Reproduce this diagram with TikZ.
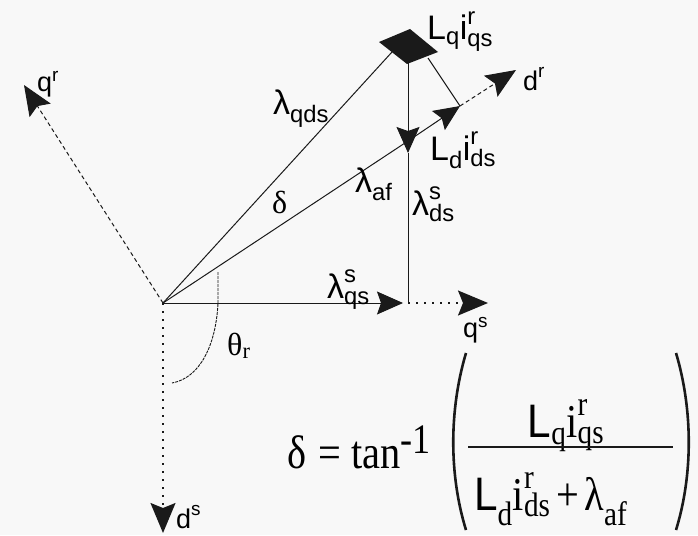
\documentclass[tikz,border=0pt]{standalone}
\usepackage{amsmath}
\usepackage{fontspec}
\setmainfont{Liberation Serif}
\setsansfont{Liberation Sans}
\newfontfamily\formfont{Liberation Serif}[FakeStretch=0.86]
\newfontfamily\formsans{Liberation Sans}[FakeStretch=0.9]
\usetikzlibrary{arrows.meta}
\DeclareMathSizes{47}{47}{34}{26}
\newcommand{\tx}[1]{\text{#1}}
\definecolor{bgc}{HTML}{F8F8F8}
\definecolor{ink}{HTML}{1A1A1A}
\tikzset{
  vecline/.style={draw=ink, line width=1pt},
  axdash/.style={draw=ink, line width=1pt, dash pattern=on 4pt off 3pt},
  axdot/.style={draw=ink, line width=1.6pt, dash pattern=on 2pt off 6pt},
  bigtip/.style={-{Stealth[length=30pt,width=25pt,inset=5pt,color=ink]}},
  smalltip/.style={-{Stealth[length=26pt,width=23pt,inset=4pt,color=ink]}},
  axlab/.style={font=\sffamily\fontsize{27}{30}\selectfont, inner sep=0pt, anchor=base west},
  vlab/.style={font=\sffamily\fontsize{34}{40}\selectfont, inner sep=0pt, anchor=base west},
  glab/.style={font=\fontsize{32}{38}\selectfont, inner sep=0pt, anchor=base west},
  flab/.style={font=\formfont\fontsize{47}{56}\selectfont, inner sep=0pt},
}
\begin{document}
\begin{tikzpicture}[x=1pt,y=-1pt]
\fill[bgc] (0,0) rectangle (698,535);
\useasboundingbox (0,0) rectangle (698,535);

\coordinate (O) at (163,303);
\coordinate (Qr) at (24,85);
\coordinate (Ds) at (163,533);
\coordinate (H) at (403,303);
\coordinate (Hx) at (408,303);
\coordinate (Qs) at (488,303);
\coordinate (A) at (408,141);
\coordinate (P) at (460,106);
\coordinate (Dr) at (516,70);
\coordinate (T) at (392,52);
\coordinate (Tr) at (428,58);
\coordinate (Tv) at (408,58);
\coordinate (Av) at (408,153);

% axes
\draw[axdash, bigtip] (O) -- (Qr);
\draw[axdot, bigtip] (O) -- (Ds);
\draw[axdot, bigtip] (Hx) -- (Qs);
\draw[vecline] (O) -- (A);
\draw[axdash, bigtip] (P) -- (Dr);

% vectors
\draw[vecline, smalltip] (O) -- (H);
\draw[vecline, smalltip] (A) -- (P);
\draw[vecline] (O) -- (T);
\draw[vecline] (P) -- (Tr);
\draw[vecline, smalltip] (Tv) -- (Av);
\draw[vecline] (Av) -- (Hx);
\fill[ink] (379,42) -- (410,29) -- (438,52) -- (407,64) -- cycle;

% angle theta_r
\draw[ink, line width=0.9pt, dash pattern=on 3pt off 1pt] (218,272) -- (218,303) .. controls (216,345) and (200,378) .. (172,383);

% axis labels
\node[axlab] (lqr) at (37,91) {$\tx{q}^{\tx{r}}$};
\node[axlab] (ldr) at (523,90) {$\tx{d}^{\tx{r}}$};
\node[axlab] (lqs) at (463,337) {$\tx{q}^{\tx{s}}$};
\node[axlab] (lds) at (176,528) {$\tx{d}^{\tx{s}}$};

% vector labels
\node[vlab] (llq) at (427,40) {$\tx{L}_{\tx{q}}\tx{i}^{\tx{r}}_{\tx{qs}}$};
\node[vlab] (lld) at (430,160) {$\tx{L}_{\tx{d}}\tx{i}^{\tx{r}}_{\tx{ds}}$};
\node[vlab] (llqds) at (273,114) {$\tx{λ}_{\tx{qds}}$};
\node[vlab] (llaf) at (355,192) {$\tx{λ}_{\tx{af}}$};
\node[vlab] (llds) at (412,215) {$\tx{λ}^{\tx{s}}_{\tx{ds}}$};
\node[vlab] (llqs) at (327,298) {$\tx{λ}^{\tx{s}}_{\tx{qs}}$};
\node[glab] (ldelta) at (272,213) {δ};
\node[glab] (ltheta) at (227,355) {$\tx{θ}_{\tx{r}}$};

% formula
\node[flab, anchor=base west] (feq) at (287,468) {δ\hspace{12pt}=\hspace{10pt}tan\raisebox{15pt}{\fontsize{42}{46}\selectfont -1}};
\node[flab, anchor=base] (fnum) at (566,437) {$\tx{\formsans L}_{\tx{q}}\tx{i}^{\tx{r}}_{\tx{qs}}$};
\node[flab, anchor=base west] (fden) at (474,510) {$\tx{\formsans L}_{\tx{d}}\tx{i}^{\tx{r}}_{\tx{ds}}\mathbin{\tx{+}}\tx{λ}_{\tx{af}}$};
\draw[ink, line width=1.6pt] (468,447) -- (673,447);
\draw[ink, line width=2.6pt] (466,353) .. controls (449,410) and (449,475) .. (466,530);
\draw[ink, line width=2.6pt] (676,353) .. controls (693,410) and (693,475) .. (676,530);
\end{tikzpicture}
\end{document}
